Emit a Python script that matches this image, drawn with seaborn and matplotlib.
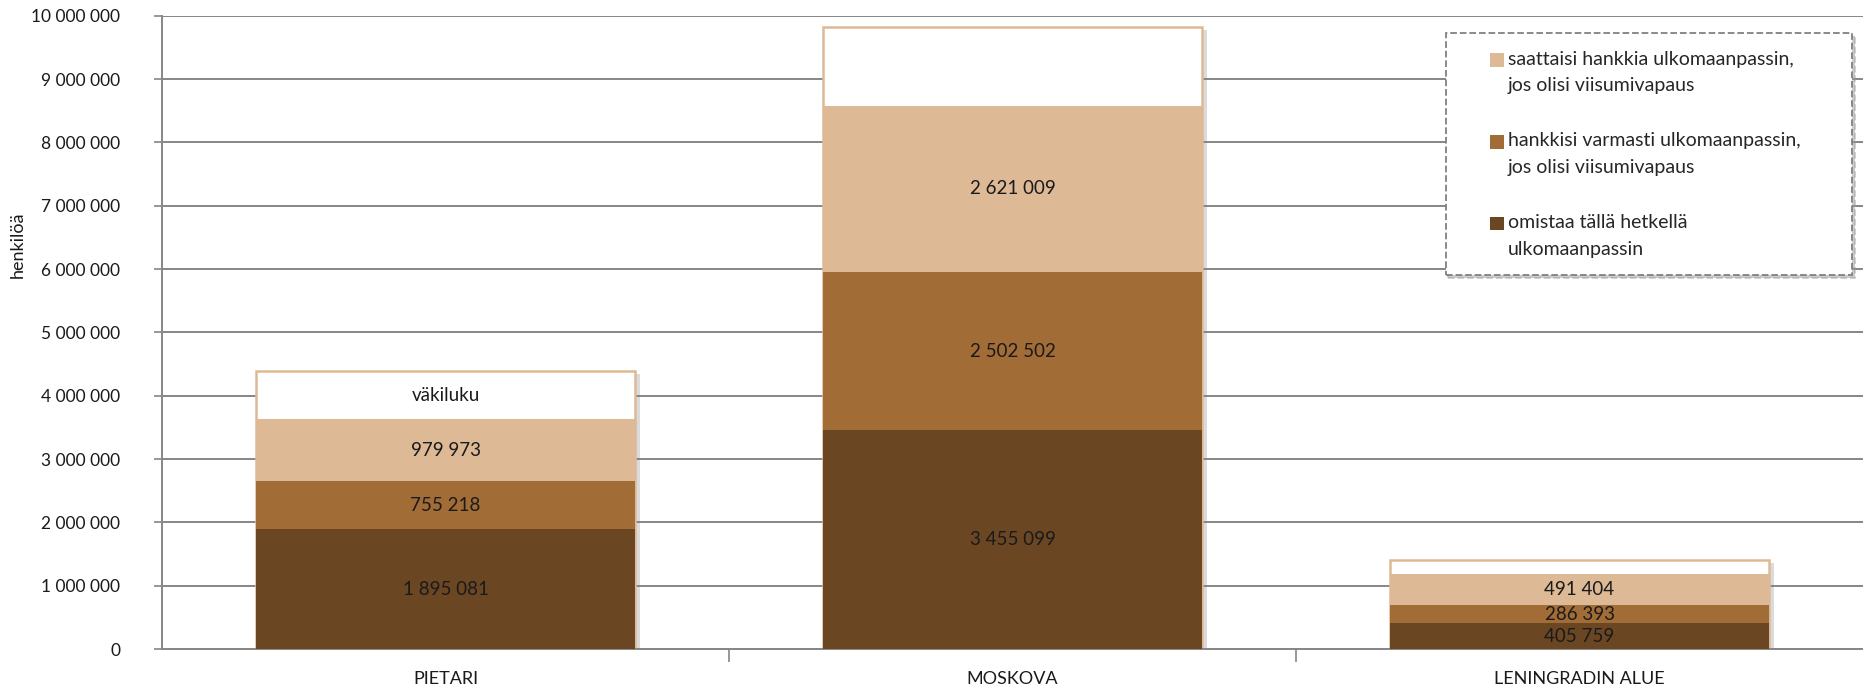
import matplotlib
matplotlib.use("Agg")
import matplotlib.pyplot as plt
import matplotlib.patheffects as pe
from matplotlib.legend_handler import HandlerPatch
from matplotlib.patches import Patch, Rectangle
from matplotlib.ticker import FuncFormatter
import pandas as pd
import seaborn as sns

# Data
alueet = ["PIETARI", "MOSKOVA", "LENINGRADIN ALUE"]
omistaa = [1895081, 3455099, 405759]
varmasti = [755218, 2502502, 286393]
saattaisi = [979973, 2621009, 491404]
vakiluku = [4390000, 9820000, 1400000]

sarjat = [
    "omistaa tällä hetkellä\nulkomaanpassin",
    "hankkisi varmasti ulkomaanpassin,\njos olisi viisumivapaus",
    "saattaisi hankkia ulkomaanpassin,\njos olisi viisumivapaus",
]
varit = ["#6B4623", "#A26C37", "#DDB996"]
harmaa = "#868686"

sns.set_style("white")
plt.rcParams["font.family"] = ["Lato", "DejaVu Sans"]

df = pd.DataFrame({"alue": alueet, "omistaa": omistaa, "varmasti": varmasti,
                   "saattaisi": saattaisi, "vakiluku": vakiluku})
df["k1"] = df["omistaa"]
df["k2"] = df["k1"] + df["varmasti"]
df["k3"] = df["k2"] + df["saattaisi"]

fig = plt.figure(figsize=(18.63, 6.89), dpi=100)
ax = fig.add_axes([0.087, 0.058, 0.913, 0.919])

# väkiluku taustapalkki
sns.barplot(data=df, x="alue", y="vakiluku", color="white", edgecolor="#DDB996",
            linewidth=1.8, width=0.667, saturation=1, ax=ax, zorder=2)
varjo = [pe.SimplePatchShadow(offset=(4, -2), shadow_rgbFace="#7f7f7f", alpha=0.28),
         pe.Normal()]
for p in ax.patches:
    p.set_path_effects(varjo)

for col, vari in zip(["k3", "k2", "k1"], varit[::-1]):
    sns.barplot(data=df, x="alue", y=col, color=vari, linewidth=0, width=0.667,
                saturation=1, ax=ax, zorder=3)

# arvot
for i in range(len(alueet)):
    ala = 0
    for arvo in (omistaa[i], varmasti[i], saattaisi[i]):
        ax.text(i, ala + arvo / 2, f"{arvo:,}".replace(",", " "), ha="center",
                va="center", fontsize=13.5, color="#1a1a1a", zorder=5)
        ala += arvo
ax.text(0, (df["k3"][0] + vakiluku[0]) / 2, "väkiluku", ha="center", va="center",
        fontsize=13.5, color="#1a1a1a", zorder=5)

ax.set_ylim(0, 10_000_000)
ax.set_yticks(range(0, 10_000_001, 1_000_000))
ax.yaxis.set_major_formatter(FuncFormatter(lambda v, _: f"{int(v):,}".replace(",", " ")))
ax.yaxis.grid(True, color=harmaa, linewidth=1.4)
ax.set_axisbelow(True)
ax.tick_params(axis="y", length=6, width=1.2, color=harmaa, labelsize=12.5, pad=24,
               left=True, labelcolor="#1a1a1a")

ax.set_xlim(-0.5, 2.5)
ax.set_xticks([0.5, 1.5])
ax.set_xticklabels([])
ax.set_xticks([0, 1, 2], labels=alueet, minor=True)
ax.tick_params(axis="x", which="major", length=9, width=1.2, color=harmaa, bottom=True)
ax.tick_params(axis="x", which="minor", length=0, labelsize=13, pad=16,
               labelcolor="#1a1a1a")

for s in ("top", "right"):
    ax.spines[s].set_visible(False)
for s in ("left", "bottom"):
    ax.spines[s].set_color(harmaa)
    ax.spines[s].set_linewidth(1.4)

ax.set_xlabel("")
ax.set_ylabel("henkilöä", fontsize=13, color="#1a1a1a")
ax.yaxis.set_label_coords(-0.08, 0.638)


# pieni neliö ensimmäisen rivin kohdalle
def nelio(legend, orig_handle, xdescent, ydescent, width, height, fontsize):
    return Rectangle((width - height - xdescent, -ydescent + 9), height, height)


kahvat = [Patch(facecolor=v, edgecolor="none") for v in varit[::-1]]
leg = ax.legend(kahvat, sarjat[::-1], loc="upper left",
                bbox_to_anchor=(0.776, 0.60, 0.218, 0.352), mode="expand",
                bbox_transform=fig.transFigure, borderaxespad=0, frameon=True,
                fancybox=False, shadow={"color": "#9a9a9a", "alpha": 0.5},
                labelspacing=1.95, handlelength=2.1, handleheight=0.7,
                handletextpad=0.2, borderpad=0.9, fontsize=14,
                handler_map={Patch: HandlerPatch(patch_func=nelio)})
for t in leg.get_texts():
    t.set_linespacing(1.7)
leg.get_frame().set_edgecolor("#808080")
leg.get_frame().set_linestyle("--")
leg.get_frame().set_linewidth(1.3)
leg.set_zorder(10)

fig.savefig("out.png", dpi=100)
